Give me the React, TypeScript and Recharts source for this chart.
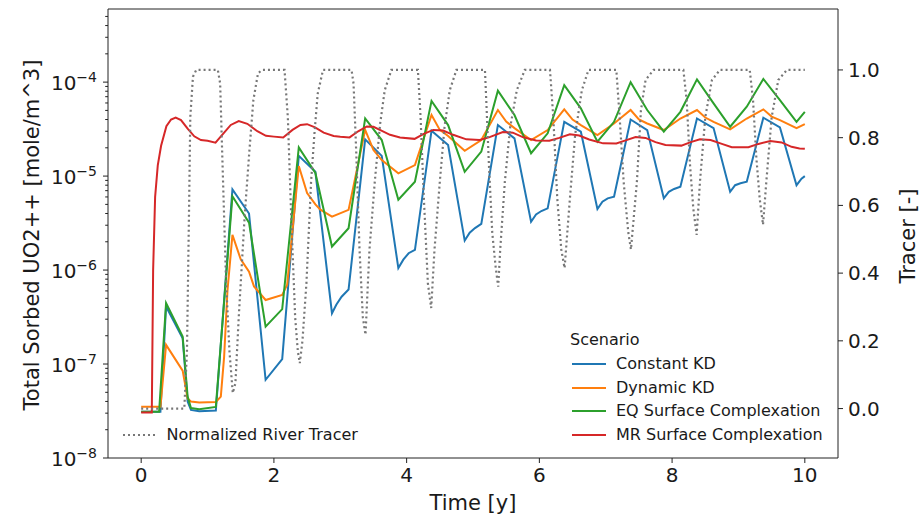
import React from 'react';
import { LineChart, Line, XAxis, YAxis, Legend, ReferenceLine } from 'recharts';

const FONT = '"DejaVu Sans", sans-serif';
const AXIS = '#222';
const TEXT = '#1a1a1a';
const BLUE = '#1f77b4';
const ORANGE = '#ff7f0e';
const GREEN = '#2ca02c';
const RED = '#d62728';
const GRAY = '#777777';

// [time (y), sorbed UO2++ (mole/m^3)]
const constantKd: [number, number][] = [
    [0, 3.1e-8], [0.29, 3.1e-8], [0.375, 4.1e-7], [0.625, 1.88e-7], [0.7, 4.0e-8], [0.75, 3.25e-8],
    [0.875, 3.15e-8], [1.125, 3.2e-8], [1.375, 7.2e-6], [1.625, 4.0e-6], [1.875, 6.8e-8], [2.125, 1.13e-7],
    [2.375, 1.64e-5], [2.625, 1.11e-5], [2.875, 3.47e-7], [2.94, 4.27e-7], [3.02, 5.2e-7], [3.125, 6.2e-7],
    [3.375, 2.46e-5], [3.625, 1.64e-5], [3.875, 1.05e-6], [3.95, 1.29e-6], [4.03, 1.51e-6], [4.125, 1.64e-6],
    [4.375, 3.04e-5], [4.625, 2.14e-5], [4.875, 2.06e-6], [4.95, 2.5e-6], [5.03, 2.8e-6], [5.125, 3.1e-6],
    [5.375, 3.49e-5], [5.625, 2.52e-5], [5.875, 3.27e-6], [5.95, 3.9e-6], [6.03, 4.25e-6], [6.125, 4.54e-6],
    [6.375, 3.78e-5], [6.625, 2.97e-5], [6.875, 4.47e-6], [6.95, 5.35e-6], [7.03, 5.8e-6], [7.125, 6.04e-6],
    [7.375, 4.0e-5], [7.625, 3.09e-5], [7.875, 5.8e-6], [7.95, 6.8e-6], [8.03, 7.3e-6], [8.125, 7.7e-6],
    [8.375, 4.1e-5], [8.625, 3.24e-5], [8.875, 6.8e-6], [8.95, 8.0e-6], [9.03, 8.4e-6], [9.125, 8.7e-6],
    [9.375, 4.18e-5], [9.625, 3.3e-5], [9.875, 8.0e-6], [9.95, 9.4e-6], [10.0, 1.0e-5],
];

const dynamicKd: [number, number][] = [
    [0, 3.5e-8], [0.29, 3.5e-8], [0.375, 1.6e-7], [0.625, 8.5e-8], [0.7, 4.3e-8], [0.75, 4.0e-8],
    [0.875, 3.9e-8], [1.125, 3.95e-8], [1.2, 4.5e-8], [1.25, 1.2e-7], [1.3, 6.0e-7], [1.375, 2.37e-6],
    [1.5, 1.3e-6], [1.625, 9.6e-7], [1.7, 6.7e-7], [1.875, 4.8e-7], [2.125, 5.45e-7], [2.2, 7.0e-7],
    [2.375, 1.28e-5], [2.5, 6.6e-6], [2.625, 5.0e-6], [2.7, 4.4e-6], [2.875, 3.7e-6], [3.125, 4.37e-6],
    [3.375, 3.1e-5], [3.5, 1.9e-5], [3.625, 1.48e-5], [3.875, 1.07e-5], [4.125, 1.31e-5],
    [4.375, 4.47e-5], [4.5, 3.1e-5], [4.625, 2.67e-5], [4.875, 1.86e-5], [5.125, 2.42e-5],
    [5.375, 5.05e-5], [5.5, 3.8e-5], [5.625, 3.24e-5], [5.875, 2.42e-5], [6.125, 3.09e-5],
    [6.375, 5.13e-5], [6.5, 4.0e-5], [6.625, 3.49e-5], [6.875, 2.73e-5], [7.125, 3.63e-5],
    [7.375, 5.05e-5], [7.5, 4.0e-5], [7.625, 3.63e-5], [7.875, 3.09e-5], [8.125, 4.1e-5],
    [8.375, 5.05e-5], [8.5, 4.2e-5], [8.625, 3.78e-5], [8.875, 3.14e-5], [9.125, 4.1e-5],
    [9.375, 5.13e-5], [9.5, 4.3e-5], [9.625, 3.94e-5], [9.875, 3.24e-5], [10.0, 3.58e-5],
];

const eqSurface: [number, number][] = [
    [0, 3.1e-8], [0.27, 3.1e-8], [0.375, 4.45e-7], [0.625, 1.96e-7], [0.7, 4.5e-8], [0.75, 3.4e-8],
    [0.875, 3.3e-8], [1.125, 3.5e-8], [1.375, 6.1e-6], [1.625, 3.2e-6], [1.875, 2.5e-7], [2.125, 3.84e-7],
    [2.375, 2.02e-5], [2.625, 1.08e-5], [2.875, 1.78e-6], [3.125, 2.79e-6], [3.375, 4.1e-5], [3.625, 2.42e-5],
    [3.875, 5.6e-6], [4.125, 8.7e-6], [4.375, 6.3e-5], [4.625, 3.49e-5], [4.875, 1.11e-5], [5.125, 1.82e-5],
    [5.375, 8.1e-5], [5.625, 4.47e-5], [5.875, 1.75e-5], [6.125, 2.85e-5], [6.375, 9.3e-5], [6.625, 5.26e-5],
    [6.875, 2.32e-5], [7.125, 3.78e-5], [7.375, 1.0e-4], [7.625, 5.05e-5], [7.875, 2.97e-5], [8.125, 4.83e-5],
    [8.375, 1.07e-4], [8.625, 5.94e-5], [8.875, 3.35e-5], [9.125, 5.47e-5], [9.375, 1.08e-4], [9.625, 6.44e-5],
    [9.875, 3.78e-5], [10.0, 4.83e-5],
];

const mrSurface: [number, number][] = [
    [0, 3.05e-8], [0.16, 3.05e-8], [0.18, 1.0e-6], [0.21, 6.0e-6], [0.25, 1.3e-5], [0.3, 2.1e-5],
    [0.38, 3.4e-5], [0.45, 4.0e-5], [0.52, 4.2e-5], [0.6, 3.95e-5], [0.7, 3.2e-5], [0.8, 2.65e-5],
    [0.9, 2.42e-5], [1.0, 2.38e-5], [1.12, 2.27e-5], [1.25, 2.9e-5], [1.35, 3.5e-5], [1.47, 3.85e-5],
    [1.6, 3.6e-5], [1.75, 3.0e-5], [1.88, 2.68e-5], [2.0, 2.63e-5], [2.14, 2.58e-5], [2.28, 3.1e-5],
    [2.4, 3.5e-5], [2.5, 3.57e-5], [2.62, 3.3e-5], [2.75, 2.9e-5], [2.9, 2.67e-5], [3.0, 2.62e-5],
    [3.14, 2.58e-5], [3.27, 3.0e-5], [3.4, 3.38e-5], [3.5, 3.35e-5], [3.62, 3.05e-5], [3.75, 2.75e-5],
    [3.9, 2.58e-5], [4.12, 2.49e-5], [4.25, 2.8e-5], [4.4, 3.1e-5], [4.55, 3.05e-5], [4.7, 2.75e-5],
    [4.9, 2.46e-5], [5.1, 2.42e-5], [5.25, 2.6e-5], [5.45, 2.95e-5], [5.6, 2.9e-5], [5.75, 2.6e-5],
    [5.95, 2.39e-5], [6.15, 2.38e-5], [6.3, 2.55e-5], [6.46, 2.78e-5], [6.6, 2.7e-5], [6.75, 2.45e-5],
    [6.96, 2.23e-5], [7.16, 2.22e-5], [7.3, 2.4e-5], [7.45, 2.6e-5], [7.6, 2.55e-5], [7.75, 2.3e-5],
    [7.9, 2.14e-5], [8.14, 2.11e-5], [8.28, 2.3e-5], [8.42, 2.46e-5], [8.58, 2.42e-5], [8.75, 2.2e-5],
    [8.9, 2.03e-5], [9.15, 2.03e-5], [9.3, 2.2e-5], [9.48, 2.36e-5], [9.65, 2.28e-5], [9.8, 2.05e-5],
    [9.92, 1.97e-5], [10.0, 1.95e-5],
];

// [time (y), normalized tracer (-)]
const riverTracer: [number, number][] = [
    [0, 0], [0.65, 0], [0.69, 0.17], [0.72, 0.57], [0.74, 0.86], [0.78, 0.98], [0.83, 1.0],
    [1.155, 1.0], [1.19, 0.96], [1.22, 0.76], [1.28, 0.37], [1.33, 0.17], [1.38, 0.046], [1.42, 0.075],
    [1.47, 0.27], [1.56, 0.57], [1.63, 0.76], [1.69, 0.91], [1.76, 0.99], [1.82, 1.0],
    [2.16, 1.0], [2.21, 0.86], [2.26, 0.57], [2.32, 0.27], [2.36, 0.17], [2.39, 0.134], [2.43, 0.2],
    [2.49, 0.37], [2.56, 0.67], [2.61, 0.81], [2.66, 0.93], [2.74, 1.0],
    [3.17, 1.0], [3.2, 0.96], [3.24, 0.76], [3.29, 0.47], [3.34, 0.27], [3.38, 0.218], [3.44, 0.47],
    [3.52, 0.67], [3.6, 0.84], [3.67, 0.94], [3.77, 1.0],
    [4.17, 1.0], [4.21, 0.86], [4.26, 0.62], [4.32, 0.37], [4.37, 0.297], [4.42, 0.47], [4.5, 0.67],
    [4.57, 0.83], [4.65, 0.94], [4.75, 1.0],
    [5.18, 1.0], [5.2, 0.91], [5.24, 0.72], [5.29, 0.52], [5.34, 0.42], [5.38, 0.36], [5.41, 0.47],
    [5.48, 0.67], [5.56, 0.83], [5.66, 0.94], [5.78, 1.0],
    [6.16, 1.0], [6.21, 0.86], [6.27, 0.62], [6.33, 0.47], [6.38, 0.415], [6.46, 0.62], [6.54, 0.81],
    [6.64, 0.94], [6.74, 1.0],
    [7.16, 1.0], [7.21, 0.86], [7.27, 0.67], [7.34, 0.52], [7.38, 0.47], [7.47, 0.67], [7.53, 0.88],
    [7.6, 0.97], [7.72, 1.0],
    [8.17, 1.0], [8.22, 0.91], [8.27, 0.72], [8.32, 0.59], [8.37, 0.513], [8.42, 0.67], [8.5, 0.86],
    [8.6, 0.97], [8.72, 1.0],
    [9.17, 1.0], [9.22, 0.91], [9.27, 0.74], [9.32, 0.62], [9.37, 0.543], [9.42, 0.67], [9.5, 0.86],
    [9.6, 0.97], [9.73, 1.0], [10.0, 1.0],
];

const timeTicks = [0, 2, 4, 6, 8, 10];
const tracerTicks = [0, 0.2, 0.4, 0.6, 0.8, 1.0];
const decades = [-8, -7, -6, -5, -4];
const minorSteps = [2, 3, 4, 5, 6, 7, 8, 9];
const scenarios = [
    { name: 'Constant KD', color: BLUE },
    { name: 'Dynamic KD', color: ORANGE },
    { name: 'EQ Surface Complexation', color: GREEN },
    { name: 'MR Surface Complexation', color: RED },
];

const LOG_MAX = 6e-4;
const TRACER_MAX = 1.18;
const logTicks: number[] = [];
decades.forEach(e => {
    logTicks.push(Math.pow(10, e));
    minorSteps.forEach(k => {
        const v = k * Math.pow(10, e);
        if (v <= LOG_MAX) logTicks.push(v);
    });
});

const toRows = (pts: [number, number][]) => pts.map(([t, v]) => ({ t, v }));

function LogTick(props: any) {
    const { x, y, payload } = props;
    const v = payload.value;
    const e = Math.round(Math.log10(v));
    const major = Math.abs(v - Math.pow(10, e)) / v < 1e-6;
    const ax = x + 5 + 6;
    return (
        <g>
            <line x1={ax - (major ? 5 : 2.8)} x2={ax} y1={y} y2={y} stroke={AXIS} strokeWidth={1} />
            {major && (
                <text x={x} y={y + 7.5} textAnchor="end" fontSize={20} fill={TEXT} fontFamily={FONT}>
                    10<tspan dy={-8} fontSize={14}>{'\u2212' + Math.abs(e)}</tspan>
                </text>
            )}
        </g>
    );
}

function LegendBoxes() {
    const rowY = [364, 387.5, 411, 435];
    return (
        <div style={{ position: 'relative', width: 924, height: 517, fontFamily: FONT, fontSize: 16, color: TEXT }}>
            <svg style={{ position: 'absolute', left: 123, top: 430 }} width={34} height={10}>
                <line x1={0} x2={34} y1={5} y2={5} stroke={GRAY} strokeWidth={2.2} strokeDasharray="2 3" />
            </svg>
            <div style={{ position: 'absolute', left: 166.5, top: 435, transform: 'translateY(-50%)', lineHeight: 1, whiteSpace: 'nowrap' }}>
                Normalized River Tracer
            </div>
            <div style={{ position: 'absolute', left: 570, top: 340, transform: 'translateY(-50%)', lineHeight: 1, whiteSpace: 'nowrap' }}>
                Scenario
            </div>
            {scenarios.map((s, i) => (
                <React.Fragment key={s.name}>
                    <svg style={{ position: 'absolute', left: 572, top: rowY[i] - 5 }} width={34} height={10}>
                        <line x1={0} x2={34} y1={5} y2={5} stroke={s.color} strokeWidth={2} />
                    </svg>
                    <div style={{ position: 'absolute', left: 616, top: rowY[i], transform: 'translateY(-50%)', lineHeight: 1, whiteSpace: 'nowrap' }}>
                        {s.name}
                    </div>
                </React.Fragment>
            ))}
        </div>
    );
}

export default function App() {
    const series = [constantKd, dynamicKd, eqSurface, mrSurface];
    return (
        <div style={{ position: 'absolute', left: 0, top: 0, width: 924, height: 517, background: '#fff' }}>
            <LineChart width={924} height={517} margin={{ top: 9, right: 0, bottom: 0, left: 0 }} style={{ fontFamily: FONT }}>
                <XAxis xAxisId="b" dataKey="t" type="number" domain={[-0.5, 10.5]} ticks={timeTicks} interval={0}
                    height={59} tickSize={5} tickMargin={5} stroke={AXIS}
                    tick={{ fontSize: 20, fill: TEXT }} />
                <YAxis yAxisId="left" type="number" scale="log" domain={[1e-8, LOG_MAX]} allowDataOverflow
                    ticks={logTicks} interval={0} width={108} tickSize={5} tickMargin={6} tickLine={false}
                    stroke={AXIS} tick={<LogTick />} />
                <YAxis yAxisId="right" orientation="right" type="number" domain={[-0.146, TRACER_MAX]} allowDataOverflow
                    ticks={tracerTicks} interval={0} width={86} tickSize={5} tickMargin={5} stroke={AXIS}
                    tickFormatter={(v: number) => v.toFixed(1)} tick={{ fontSize: 20, fill: TEXT }} />
                <ReferenceLine xAxisId="b" yAxisId="right" y={TRACER_MAX} stroke={AXIS} strokeWidth={1} ifOverflow="visible" />
                {series.map((pts, i) => (
                    <Line key={scenarios[i].name} xAxisId="b" yAxisId="left" data={toRows(pts)} dataKey="v"
                        type="linear" stroke={scenarios[i].color} strokeWidth={2} dot={false} activeDot={false}
                        isAnimationActive={false} />
                ))}
                <Line xAxisId="b" yAxisId="right" data={toRows(riverTracer)} dataKey="v" type="linear"
                    stroke={GRAY} strokeWidth={2.2} strokeDasharray="2 3" dot={false} activeDot={false}
                    isAnimationActive={false} />
                <Legend layout="vertical" align="center" verticalAlign="middle" content={() => <LegendBoxes />}
                    wrapperStyle={{ left: 0, top: 0, width: 924, height: 517 }} />
            </LineChart>
            <svg style={{ position: 'absolute', left: 0, top: 0, pointerEvents: 'none' }} width={924} height={517}>
                <text x={38.5} y={235} transform="rotate(-90 38.5 235)" textAnchor="middle" fontSize={21} fill={TEXT} fontFamily={FONT}>
                    Total Sorbed UO2++ [mole/m^3]
                </text>
                <text x={915} y={236} transform="rotate(-90 915 236)" textAnchor="middle" fontSize={21} fill={TEXT} fontFamily={FONT}>
                    Tracer [-]
                </text>
                <text x={473} y={510} textAnchor="middle" fontSize={21} fill={TEXT} fontFamily={FONT}>
                    Time [y]
                </text>
            </svg>
        </div>
    );
}
